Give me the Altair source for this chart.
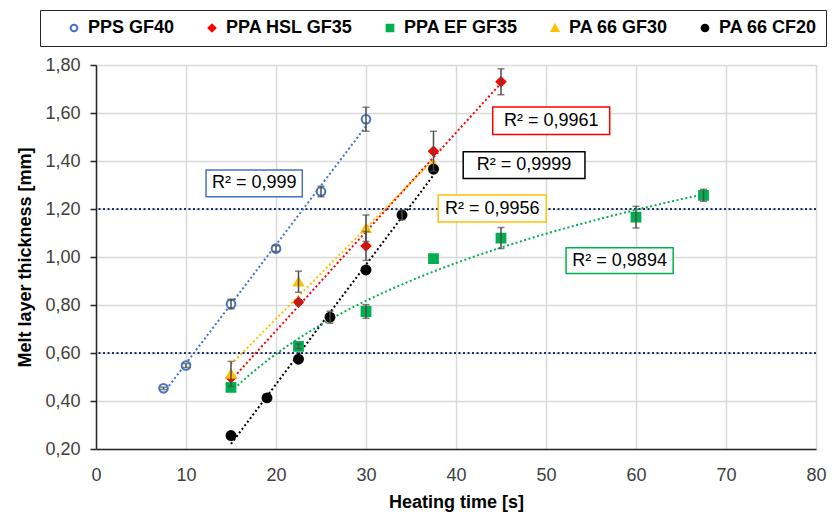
import altair as alt
import pandas as pd

# ---------------- data ----------------
series_names = ["PPS GF40", "PPA HSL GF35", "PPA EF GF35", "PA 66 GF30", "PA 66 CF20"]
series_colors = ["#4472C4", "#FF0000", "#00B050", "#FFC000", "#000000"]
series_fills = ["#FFFFFF", "#FF0000", "#00B050", "#FFC000", "#000000"]
series_shapes = ["circle", "diamond", "square", "triangle-up", "circle"]
series_sizes = [40, 60, 65, 75, 80]

pps_time = [7.5, 10, 15, 20, 25, 30]
pps_thick = [0.453, 0.548, 0.804, 1.035, 1.273, 1.574]
pps_err = [0.005, 0.008, 0.02, 0.012, 0.022, 0.05]

hsl_time = [15, 22.5, 30, 37.5, 45]
hsl_thick = [0.497, 0.812, 1.046, 1.441, 1.730]
hsl_err = [0.0, 0.01, 0.06, 0.083, 0.054]

ef_time = [15, 22.5, 30, 37.5, 45, 60, 67.5]
ef_thick = [0.457, 0.628, 0.773, 0.993, 1.079, 1.166, 1.257]
ef_err = [0.0, 0.01, 0.028, 0.0, 0.044, 0.045, 0.025]

gf30_time = [15, 22.5, 30, 37.5]
gf30_thick = [0.513, 0.897, 1.120, 1.386]
gf30_err = [0.052, 0.044, 0.055, 0.0]

cf20_time = [15, 19, 22.5, 26, 30, 34, 37.5]
cf20_thick = [0.256, 0.413, 0.574, 0.749, 0.946, 1.175, 1.366]
cf20_err = [0.0, 0.0, 0.0, 0.025, 0.0, 0.02, 0.0]

ref_levels = [1.2, 0.6]

r2_series = ["PPS GF40", "PPA HSL GF35", "PA 66 CF20", "PA 66 GF30", "PPA EF GF35"]
r2_text = ["R² = 0,999", "R² = 0,9961", "R² = 0,9999", "R² = 0,9956", "R² = 0,9894"]
# label boxes in data units (time, thickness)
r2_x1 = [12.23, 44.08, 40.80, 38.02, 52.23]
r2_x2 = [22.92, 57.08, 54.33, 50.03, 64.13]
r2_y1 = [1.251, 1.510, 1.327, 1.146, 0.931]
r2_y2 = [1.362, 1.625, 1.439, 1.258, 1.039]

x_ticks = [0, 10, 20, 30, 40, 50, 60, 70, 80]
y_ticks = [0.2, 0.4, 0.6, 0.8, 1.0, 1.2, 1.4, 1.6, 1.8]

# ---------------- tables ----------------
rows = []
for name, ts, vs, es in [
    (series_names[0], pps_time, pps_thick, pps_err),
    (series_names[1], hsl_time, hsl_thick, hsl_err),
    (series_names[2], ef_time, ef_thick, ef_err),
    (series_names[3], gf30_time, gf30_thick, gf30_err),
    (series_names[4], cf20_time, cf20_thick, cf20_err),
]:
    for t, v, e in zip(ts, vs, es):
        rows.append({"series": name, "t": t, "v": v, "e": e, "lo": v - e, "hi": v + e})
df = pd.DataFrame(rows)

ref_df = pd.DataFrame({"v": ref_levels})
lab_df = pd.DataFrame({
    "series": r2_series, "text": r2_text,
    "x1": r2_x1, "x2": r2_x2, "y1": r2_y1, "y2": r2_y2,
})
lab_df["xc"] = (lab_df.x1 + lab_df.x2) / 2
lab_df["yc"] = (lab_df.y1 + lab_df.y2) / 2

FONT = "Liberation Sans"

x_scale = alt.Scale(domain=[0, 80], nice=False)
y_scale = alt.Scale(domain=[0.2, 1.8], nice=False, zero=False)

x_axis = alt.Axis(
    values=x_ticks, grid=True, gridColor="#d9d9d9", gridWidth=1.5,
    ticks=False, domainColor="#262626", domainWidth=1.5, labelFlush=False,
    labelFont=FONT, labelFontSize=18, labelColor="#404040", labelPadding=17,
    title="Heating time [s]", titleFont=FONT, titleFontSize=18,
    titleFontWeight="bold", titleColor="black", titlePadding=9,
)
y_axis = alt.Axis(
    values=y_ticks, grid=True, gridColor="#d9d9d9", gridWidth=1.5,
    ticks=True, tickSize=6, tickColor="#262626", tickWidth=1.5,
    domainColor="#262626", domainWidth=1.5, labelFlush=False,
    labelFont=FONT, labelFontSize=18, labelColor="#404040", labelPadding=10,
    labelExpr="replace(format(datum.value, '.2f'), '.', ',')",
    title="Melt layer thickness [mm]", titleFont=FONT, titleFontSize=18,
    titleFontWeight="bold", titleColor="black", titlePadding=10,
)

def X(field):
    return alt.X(f"{field}:Q", scale=x_scale, axis=x_axis)

def Y(field):
    return alt.Y(f"{field}:Q", scale=y_scale, axis=y_axis)

# reversed domain order keeps these (legend-less) scales separate from the legend scales
stroke_enc = alt.Stroke(
    "series:N",
    scale=alt.Scale(domain=series_names[::-1], range=series_colors[::-1]),
    legend=None,
)

base = alt.Chart(df)

hlines = alt.Chart(ref_df).mark_rule(color="#1F2F5F", strokeWidth=2, strokeDash=[2, 2.5]).encode(y=Y("v"))

trend_lin = base.transform_filter(
    alt.datum.series != "PPA EF GF35"
).transform_regression(
    "t", "v", groupby=["series"], method="linear"
).mark_line(strokeWidth=2, strokeDash=[2, 2.5]).encode(
    x=X("t"), y=Y("v"), stroke=stroke_enc, detail="series:N"
)

trend_log = base.transform_filter(
    alt.datum.series == "PPA EF GF35"
).transform_regression(
    "t", "v", groupby=["series"], method="log"
).mark_line(strokeWidth=2, strokeDash=[2, 2.5]).encode(
    x=X("t"), y=Y("v"), stroke=stroke_enc
)

legend = alt.Legend(
    title=" ", titleOrient="left", titlePadding=16, titleFontSize=18,
    orient="none", legendX=-56, legendY=-55, direction="horizontal", columns=5,
    strokeColor="#262626", padding=9, fillColor="white",
    labelFont=FONT, labelFontSize=18, labelFontWeight="bold", labelColor="black",
    symbolSize=45, symbolStrokeWidth=2, labelOffset=5, columnPadding=28,
)

points = base.mark_point(filled=False, strokeWidth=2, opacity=1).encode(
    x=X("t"), y=Y("v"),
    color=alt.Color("series:N", scale=alt.Scale(domain=series_names, range=series_colors), legend=legend),
    fill=alt.Fill("series:N", scale=alt.Scale(domain=series_names, range=series_fills), legend=legend),
    shape=alt.Shape("series:N", scale=alt.Scale(domain=series_names, range=series_shapes), legend=legend),
    size=alt.Size("series:N", scale=alt.Scale(domain=series_names[::-1], range=series_sizes[::-1]), legend=None),
)

err_base = base.transform_filter(alt.datum.e > 0)
err_rule = err_base.mark_rule(color="#4d4d4d", strokeWidth=1.5).encode(x=X("t"), y=Y("lo"), y2="hi:Q")
err_lo = err_base.mark_tick(color="#4d4d4d", thickness=1.5, size=7, orient="horizontal").encode(x=X("t"), y=Y("lo"))
err_hi = err_base.mark_tick(color="#4d4d4d", thickness=1.5, size=7, orient="horizontal").encode(x=X("t"), y=Y("hi"))

boxes = alt.Chart(lab_df).mark_rect(fill="white", strokeWidth=1.5).encode(
    x=X("x1"), x2="x2:Q", y=Y("y1"), y2="y2:Q", stroke=stroke_enc
)
texts = alt.Chart(lab_df).mark_text(font=FONT, fontSize=18, color="black", align="center", baseline="middle").encode(
    x=X("xc"), y=Y("yc"), text="text:N"
)

chart = alt.layer(
    hlines, trend_lin, trend_log, points, err_rule, err_lo, err_hi, boxes, texts
).properties(
    width=720, height=384,
    autosize=alt.AutoSizeParams(type="none"),
    padding={"left": 88, "top": 57, "right": 12, "bottom": 64},
).configure_view(
    stroke="#262626", strokeWidth=1.5
).configure(background="white")

chart.save("out.html", embed_options={"renderer": "svg", "actions": False})
